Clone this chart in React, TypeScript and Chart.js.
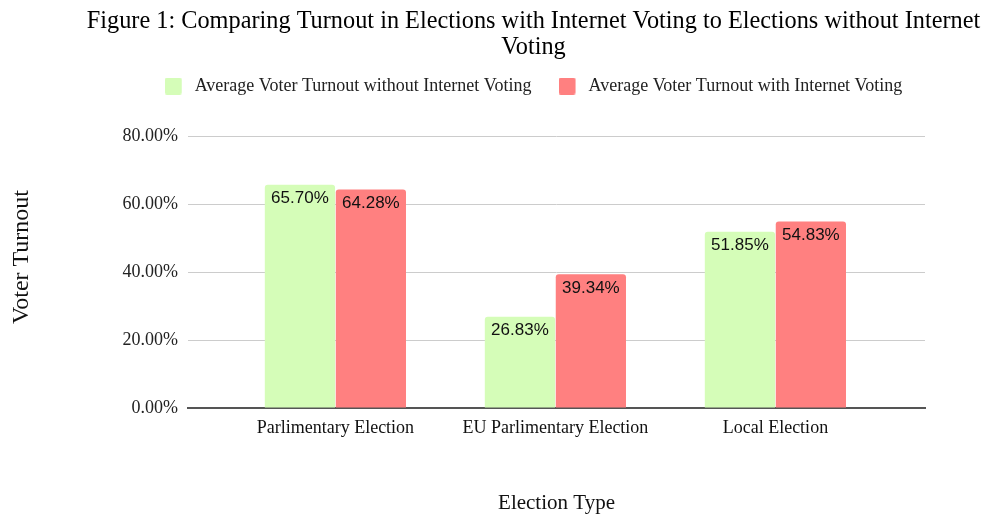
import React, { useEffect, useRef } from "react";
import { Chart, registerables } from "chart.js";

Chart.register(...registerables);

const categories = ["Parlimentary Election", "EU Parlimentary Election", "Local Election"];
const withoutInternet = [65.7, 26.83, 51.85];
const withInternet = [64.28, 39.34, 54.83];
const seriesNames = [
  "Average Voter Turnout without Internet Voting",
  "Average Voter Turnout with Internet Voting",
];
const seriesColors = ["#d5fdb8", "#ff8080"];
const yTicks = [0, 20, 40, 60, 80];
const titleLines = [
  "Figure 1: Comparing Turnout in Elections with Internet Voting to Elections without Internet",
  "Voting",
];
const yAxisTitle = "Voter Turnout";
const xAxisTitle = "Election Type";

const SERIF = "'Liberation Serif', 'Times New Roman', serif";
const SANS = "'Liberation Sans', Arial, sans-serif";

function makeSwatch(color: string): HTMLCanvasElement {
  const c = document.createElement("canvas");
  c.width = 21;
  c.height = 17;
  const g = c.getContext("2d")!;
  g.fillStyle = color;
  g.beginPath();
  if ((g as any).roundRect) (g as any).roundRect(0, 0, 17, 17, 2);
  else g.rect(0, 0, 17, 17);
  g.fill();
  return c;
}

const dataLabels = {
  id: "dataLabels",
  afterDatasetsDraw(chart: any) {
    const ctx = chart.ctx;
    ctx.save();
    ctx.font = `17px ${SANS}`;
    ctx.fillStyle = "#111";
    ctx.textAlign = "center";
    ctx.textBaseline = "middle";
    chart.data.datasets.forEach((ds: any, di: number) => {
      const meta = chart.getDatasetMeta(di);
      meta.data.forEach((el: any, i: number) => {
        const v = ds.data[i].y;
        ctx.fillText(v.toFixed(2) + "%", el.x, el.y + 14);
      });
    });
    ctx.restore();
  },
};

const yTitlePlugin = {
  id: "yTitlePlugin",
  afterDraw(chart: any) {
    const ctx = chart.ctx;
    ctx.save();
    ctx.translate(22, chart.height / 2);
    ctx.rotate(-Math.PI / 2);
    ctx.font = `24px ${SERIF}`;
    ctx.fillStyle = "#111";
    ctx.textAlign = "center";
    ctx.textBaseline = "middle";
    ctx.fillText(yAxisTitle, 0, 0);
    ctx.restore();
  },
};

const headerShift = {
  id: "headerShift",
  afterInit(chart: any) {
    const lg = chart.legend;
    if (lg && !lg._patched) {
      const fit = lg.fit;
      lg.fit = function () {
        fit.call(this);
        this.height += 31;
      };
      lg._patched = true;
    }
  },
  afterLayout(chart: any) {
    const dx = 67;
    [chart.legend, chart.titleBlock].forEach((b: any) => {
      if (b) {
        b.left += dx;
        b.right += dx;
      }
    });
  },
};

export default function App() {
  const ref = useRef<HTMLCanvasElement>(null);
  useEffect(() => {
    if (!ref.current) return;
    const swatches = seriesColors.map(makeSwatch);
    const chart = new Chart(ref.current, {
      type: "bar",
      data: {
        datasets: [
          {
            label: seriesNames[0],
            data: withoutInternet.map((v, i) => ({ x: i, y: v })),
            backgroundColor: seriesColors[0],
            borderRadius: { topLeft: 3, topRight: 3, bottomLeft: 0, bottomRight: 0 },
            borderSkipped: "start",
          },
          {
            label: seriesNames[1],
            data: withInternet.map((v, i) => ({ x: i, y: v })),
            backgroundColor: seriesColors[1],
            borderRadius: { topLeft: 3, topRight: 3, bottomLeft: 0, bottomRight: 0 },
            borderSkipped: "start",
          },
        ],
      } as any,
      options: {
        animation: false,
        responsive: true,
        maintainAspectRatio: false,
        datasets: { bar: { categoryPercentage: 0.645, barPercentage: 0.99 } } as any,
        layout: { padding: { left: 8, right: 59, top: 0, bottom: 0 } },
        plugins: {
          title: {
            display: true,
            text: titleLines,
            color: "#000",
            font: { family: SERIF, size: 24.3, weight: "normal" as any, lineHeight: 1.05 },
            padding: { top: 9, bottom: -10 },
          },
          legend: {
            display: true,
            labels: {
              color: "#222",
              font: { family: SERIF, size: 18 },
              usePointStyle: true,
              pointStyleWidth: 21,
              boxHeight: 17,
              padding: 27,
              generateLabels: (ch: any) => {
                const items = (Chart.defaults as any).plugins.legend.labels.generateLabels(ch);
                return items.map((it: any, i: number) => ({ ...it, pointStyle: swatches[i] }));
              },
            },
          },
          tooltip: { enabled: false },
        },
        scales: {
          x: {
            type: "linear",
            offset: false,
            bounds: "data",
            min: -0.67,
            max: 2.68,
            afterBuildTicks: (scale: any) => {
              scale.ticks = categories.map((_, i) => ({ value: i }));
            },
            afterFit: (scale: any) => {
              scale.height = 106;
            },
            ticks: {
              callback: (v: any) => categories[v as number] ?? "",
              color: "#111",
              font: { family: SERIF, size: 18 },
              padding: 9,
              maxRotation: 0,
              autoSkip: false,
            },
            grid: { display: false, drawTicks: false },
            border: { display: true, color: "#555", width: 2 },
            title: {
              display: true,
              text: xAxisTitle,
              color: "#111",
              font: { family: SERIF, size: 21, lineHeight: 1 },
              padding: { top: 4, bottom: 0 },
            },
          },
          y: {
            min: 0,
            max: 80,
            afterBuildTicks: (scale: any) => {
              scale.ticks = yTicks.map((v) => ({ value: v }));
            },
            afterFit: (scale: any) => {
              scale.width = 180;
            },
            ticks: {
              callback: (v: any) => Number(v).toFixed(2) + "%",
              color: "#222",
              font: { family: SERIF, size: 18 },
              padding: 10,
            },
            grid: { color: "#cccccc", drawTicks: false, lineWidth: 1 },
            border: { display: false },
            title: { display: false },
          },
        },
      } as any,
      plugins: [headerShift, dataLabels, yTitlePlugin],
    });
    return () => chart.destroy();
  }, []);
  return (
    <div style={{ position: "fixed", left: 0, top: 0, width: 984, height: 514, background: "#fff" }}>
      <canvas ref={ref} />
    </div>
  );
}
